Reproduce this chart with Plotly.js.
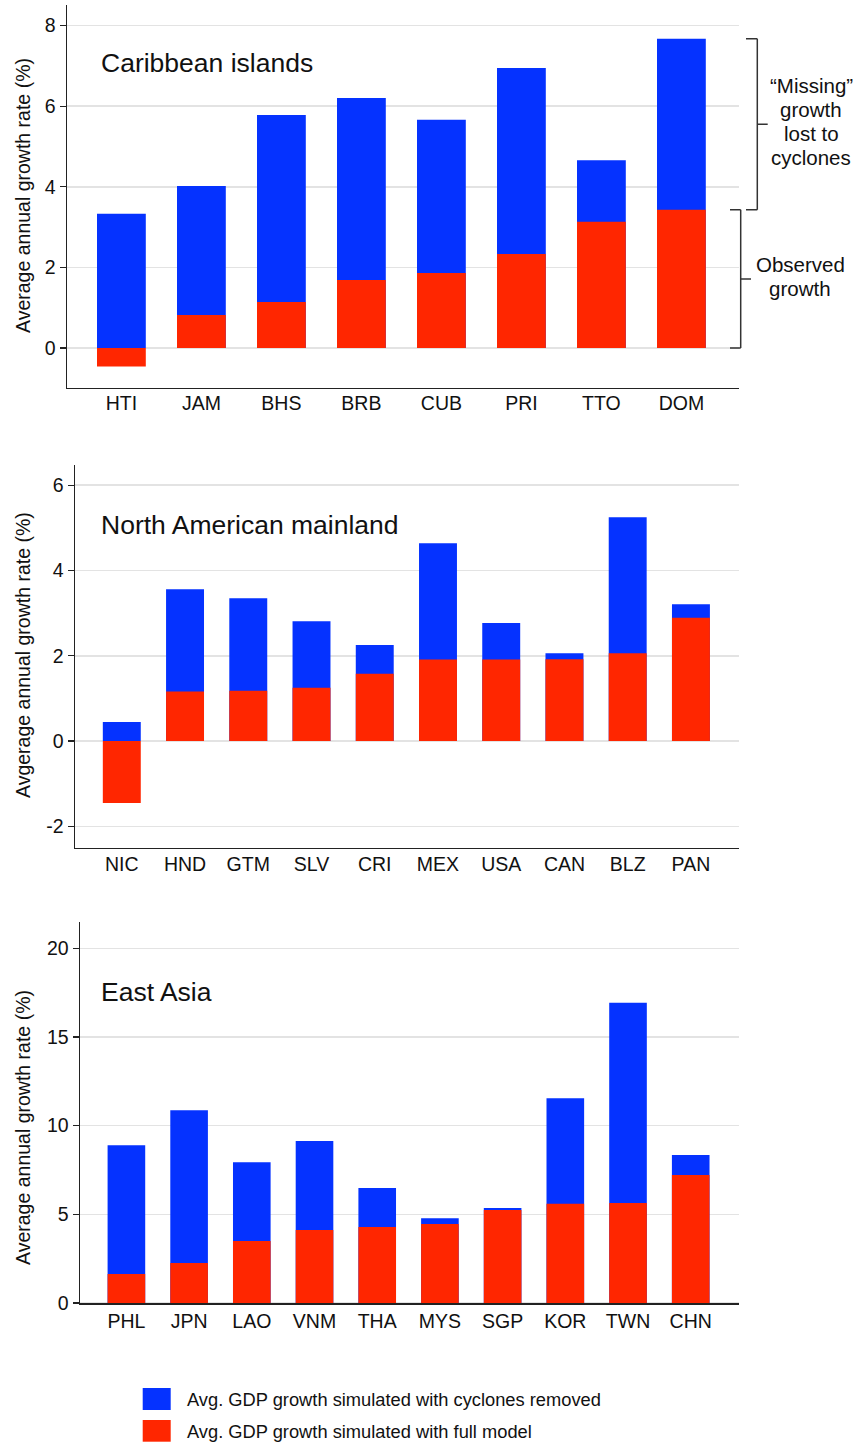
<!DOCTYPE html>
<html>
<head>
<meta charset="utf-8">
<script src="https://cdn.plot.ly/plotly-3.0.1.min.js"></script>
<style>
  html, body { margin: 0; padding: 0; background: #fff; }
  #chart { width: 856px; height: 1445px; }
</style>
</head>
<body>
<div id="chart"></div>
<script>
// ---------------- DATA ----------------
const caribCountries = ['HTI','JAM','BHS','BRB','CUB','PRI','TTO','DOM'];
const caribNoCyclones = [3.33, 4.02, 5.78, 6.20, 5.66, 6.95, 4.66, 7.67];
const caribFull       = [-0.46, 0.82, 1.14, 1.69, 1.86, 2.33, 3.13, 3.43];

const naCountries = ['NIC','HND','GTM','SLV','CRI','MEX','USA','CAN','BLZ','PAN'];
const naNoCyclones = [0.445, 3.56, 3.35, 2.81, 2.25, 4.64, 2.77, 2.06, 5.25, 3.21];
const naFull       = [-1.45, 1.16, 1.18, 1.25, 1.58, 1.91, 1.91, 1.92, 2.06, 2.89];

const eaCountries = ['PHL','JPN','LAO','VNM','THA','MYS','SGP','KOR','TWN','CHN'];
const eaNoCyclones = [8.90, 10.87, 7.94, 9.14, 6.49, 4.78, 5.36, 11.55, 16.93, 8.35];
const eaFull       = [1.64, 2.26, 3.50, 4.12, 4.29, 4.46, 5.25, 5.59, 5.64, 7.22];

const caribYTicks = [0, 2, 4, 6, 8];
const caribYTickText = ['0', '2', '4', '6', '8'];
const naYTicks = [-2, 0, 2, 4, 6];
const naYTickText = ['-2', '0', '2', '4', '6'];
const eaYTicks = [0, 5, 10, 15, 20];
const eaYTickText = ['0', '5', '10', '15', '20'];

const panelTitles = ['Caribbean islands', 'North American mainland', 'East Asia'];
const yTitles = ['Average annual growth rate (%)', 'Avgerage annual growth rate (%)', 'Average annual growth rate (%)'];
const legendLabels = ['Avg. GDP growth simulated with cyclones removed', 'Avg. GDP growth simulated with full model'];
const missingLines = ['\u201CMissing\u201D', 'growth', 'lost to', 'cyclones'];
const observedLines = ['Observed', 'growth'];

// ---------------- STYLE ----------------
const W = 856, H = 1445;
const BLUE = '#0532FF', RED = '#FF2600';
const FONT = 'Liberation Sans, Arial, Helvetica, sans-serif';
const GRID = '#e3e3e3';
const px = v => v / W;
const py = v => (H - v) / H;

function bars(x, y, color, xa, ya, width, name) {
  return { type: 'bar', x: x, y: y, xaxis: xa, yaxis: ya, width: width, name: name,
    marker: { color: color, line: { width: 0 } }, opacity: 1, showlegend: false, hoverinfo: 'x+y' };
}

const data = [
  bars(caribCountries, caribNoCyclones, BLUE, 'x', 'y', 0.61, legendLabels[0]),
  bars(caribCountries, caribFull, RED, 'x', 'y', 0.61, legendLabels[1]),
  bars(naCountries, naNoCyclones, BLUE, 'x2', 'y2', 0.6, legendLabels[0]),
  bars(naCountries, naFull, RED, 'x2', 'y2', 0.6, legendLabels[1]),
  bars(eaCountries, eaNoCyclones, BLUE, 'x3', 'y3', 0.6, legendLabels[0]),
  bars(eaCountries, eaFull, RED, 'x3', 'y3', 0.6, legendLabels[1])
];

function xax(domain, range, anchor, standoff) {
  return { domain: domain, range: range, anchor: anchor, type: 'category', showgrid: false, zeroline: false,
    showline: true, linecolor: '#222', linewidth: 1.5, ticks: '', ticklabelstandoff: standoff,
    tickfont: { family: FONT, size: 19.5, color: '#111' }, fixedrange: true };
}
function yax(domain, range, tickvals, ticktext, anchor) {
  return { domain: domain, range: range, tickmode: 'array', tickvals: tickvals, ticktext: ticktext, anchor: anchor,
    showgrid: true, gridcolor: GRID, gridwidth: 1.5, zeroline: true, zerolinecolor: GRID, zerolinewidth: 1.5,
    showline: true, linecolor: '#222', linewidth: 1.5, ticks: 'outside', ticklen: 6, tickwidth: 1.2, tickcolor: '#222',
    tickfont: { family: FONT, size: 19.5, color: '#111' }, fixedrange: true };
}

const layout = {
  width: W, height: H, autosize: false,
  margin: { l: 0, r: 0, t: 0, b: 0, pad: 0 },
  paper_bgcolor: '#fff', plot_bgcolor: '#fff',
  barmode: 'overlay', showlegend: false,
  font: { family: FONT, color: '#111' },
  xaxis:  xax([px(67), px(739)], [-0.68, 7.72], 'y', -3),
  yaxis:  yax([py(387.7), py(5)], [-0.985, 8.51], caribYTicks, caribYTickText, 'x'),
  xaxis2: xax([px(75), px(739)], [-0.74, 9.76], 'y2', -2),
  yaxis2: yax([py(847.7), py(464.7)], [-2.5, 6.48], naYTicks, naYTickText, 'x2'),
  xaxis3: xax([px(80), px(739)], [-0.74, 9.77], 'y3', 0),
  yaxis3: yax([py(1303), py(921.7)], [0, 21.5], eaYTicks, eaYTickText, 'x3'),
  shapes: [],
  annotations: []
};

// panel titles
const titlePos = [63, 525, 992];
panelTitles.forEach((t, i) => {
  layout.annotations.push({ text: t, xref: 'paper', yref: 'paper', x: px(99), y: py(titlePos[i]),
    xanchor: 'left', yanchor: 'middle', showarrow: false, font: { family: FONT, size: 26.5, color: '#111' } });
});
// y titles
const yTitlePos = [196, 655, 1128];
yTitles.forEach((t, i) => {
  layout.annotations.push({ text: t, xref: 'paper', yref: 'paper', x: px(23), y: py(yTitlePos[i]),
    xanchor: 'center', yanchor: 'middle', textangle: -90, showarrow: false, font: { family: FONT, size: 19.5, color: '#111' } });
});

// brackets for Caribbean panel (anchored to DOM values)
const domIdx = caribCountries.indexOf('DOM');
const topV = caribNoCyclones[domIdx], midV = caribFull[domIdx];
const LC = { color: '#333', width: 1.5 };
function seg(x0, y0, x1, y1) {
  layout.shapes.push({ type: 'line', xref: 'paper', yref: 'y', x0: px(x0), x1: px(x1), y0: y0, y1: y1, line: LC });
}
// upper bracket
seg(757.3, topV, 757.3, midV);
seg(746, topV, 757.3, topV);
seg(746, midV, 757.3, midV);
seg(757.3, (topV + midV) / 2, 767.7, (topV + midV) / 2);
// lower bracket
seg(740.7, midV, 740.7, 0);
seg(730, midV, 740.7, midV);
seg(730, 0, 740.7, 0);
seg(740.7, midV / 2, 751, midV / 2);

function textLines(lines, cx, firstY, step) {
  lines.forEach((t, i) => {
    layout.annotations.push({ text: t, xref: 'paper', yref: 'paper', x: px(cx), y: py(firstY + i * step),
      xanchor: 'center', yanchor: 'middle', showarrow: false, font: { family: FONT, size: 20.5, color: '#111' } });
  });
}
textLines(missingLines, 811, 85, 24.3);
textLines(observedLines, 800, 264, 24.3);

// legend
const legendRows = [{ color: BLUE, y0: 1388, y1: 1410, ty: 1399 }, { color: RED, y0: 1420, y1: 1441.7, ty: 1431 }];
legendRows.forEach((r, i) => {
  layout.shapes.push({ type: 'rect', xref: 'paper', yref: 'paper', x0: px(142.7), x1: px(170.7), y0: py(r.y1), y1: py(r.y0),
    fillcolor: r.color, line: { width: 0 } });
  layout.annotations.push({ text: legendLabels[i], xref: 'paper', yref: 'paper', x: px(185), y: py(r.ty),
    xanchor: 'left', yanchor: 'middle', showarrow: false, font: { family: FONT, size: 18.3, color: '#111' } });
});

Plotly.newPlot('chart', data, layout, { staticPlot: true, displayModeBar: false });
</script>
</body>
</html>
